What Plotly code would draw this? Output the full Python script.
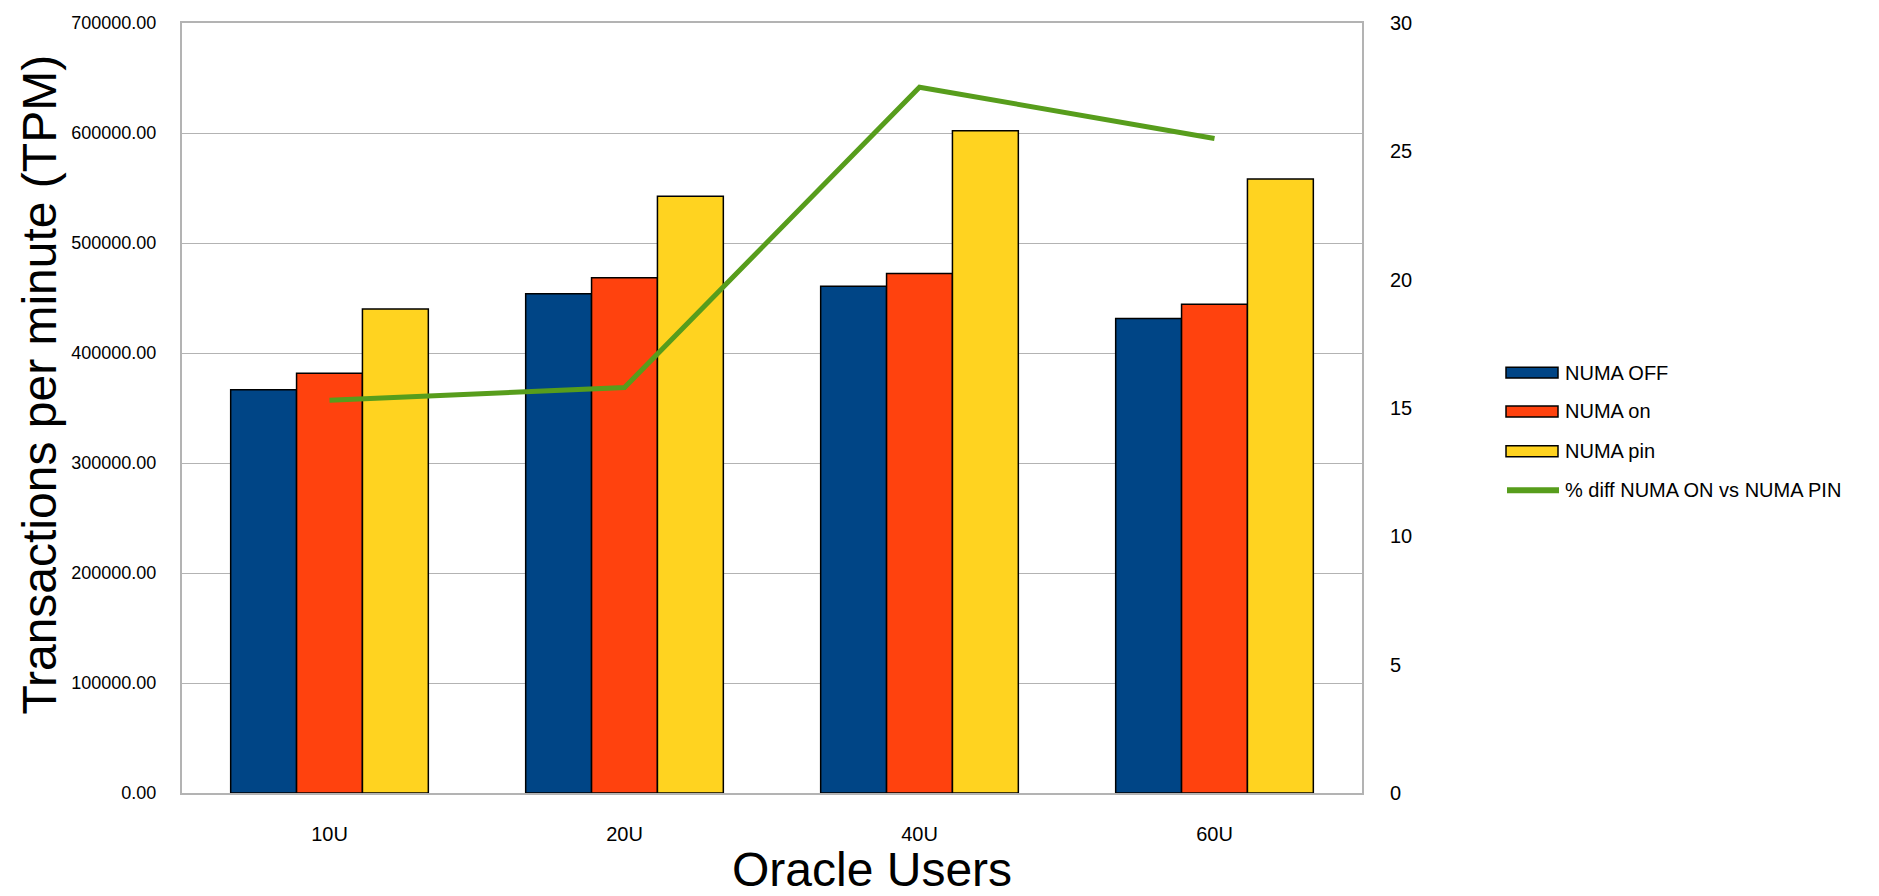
import plotly.graph_objects as go

# Benchmark results: TPM per configuration and the % gain of pinning over NUMA on
categories = ["10U", "20U", "40U", "60U"]
series_names = ["NUMA OFF", "NUMA on", "NUMA pin"]
numa_off = [366500, 453800, 460600, 431300]
numa_on = [381500, 468500, 472300, 444300]
numa_pin = [440000, 542500, 602100, 558100]
line_name = "% diff NUMA ON vs NUMA PIN"
pct_diff = [15.3, 15.8, 27.5, 25.5]

bar_colors = ["#004586", "#ff420e", "#ffd320"]
line_color = "#579d1c"
grid_color = "#b3b3b3"
FONT = "Liberation Sans, Arial, sans-serif"

W, H = 1879, 896
ML, MR, MT, MB = 182, 517, 20, 103
PW, PH = W - ML - MR, H - MT - MB


def px_x(px):
    return (px - ML) / PW


def px_y(py):
    return (H - MB - py) / PH


fig = go.Figure()
for name, vals, col in zip(series_names, [numa_off, numa_on, numa_pin], bar_colors):
    fig.add_trace(go.Bar(
        x=categories, y=vals, name=name, showlegend=False,
        marker=dict(color=col, line=dict(color="black", width=1.5)),
    ))

fig.add_trace(go.Scatter(
    x=categories, y=pct_diff, name=line_name, yaxis="y2", mode="lines",
    showlegend=False, line=dict(color=line_color, width=5),
))

# Legend drawn at the right of the plot with wide swatches
shapes = []
annotations = []
row_y = [371, 410, 450, 489]
for i, (name, col) in enumerate(zip(series_names, bar_colors)):
    cy = row_y[i]
    shapes.append(dict(
        type="rect", xref="paper", yref="paper",
        x0=px_x(1506), x1=px_x(1558), y0=px_y(cy + 5.5), y1=px_y(cy - 5.5),
        fillcolor=col, line=dict(color="black", width=1.5),
    ))
    annotations.append(dict(
        text=name, xref="paper", yref="paper", x=px_x(1563), y=px_y(cy),
        xanchor="left", yanchor="middle", showarrow=False,
        font=dict(family=FONT, size=20, color="black"),
    ))
cy = row_y[3]
shapes.append(dict(
    type="line", xref="paper", yref="paper",
    x0=px_x(1507), x1=px_x(1559), y0=px_y(cy), y1=px_y(cy),
    line=dict(color=line_color, width=6),
))
annotations.append(dict(
    text=line_name, xref="paper", yref="paper", x=px_x(1563), y=px_y(cy),
    xanchor="left", yanchor="middle", showarrow=False,
    font=dict(family=FONT, size=20, color="black"),
))

# Axis titles
annotations.append(dict(
    text="Transactions per minute (TPM)", xref="paper", yref="paper",
    x=px_x(40), y=px_y(383), xanchor="center", yanchor="middle",
    textangle=-90, showarrow=False,
    font=dict(family=FONT, size=48, color="black"),
))
annotations.append(dict(
    text="Oracle Users", xref="paper", yref="paper",
    x=px_x(872), y=px_y(870), xanchor="center", yanchor="middle",
    showarrow=False, font=dict(family=FONT, size=48, color="black"),
))

fig.update_layout(
    width=W, height=H,
    margin=dict(l=ML, r=MR, t=MT, b=MB, pad=0),
    paper_bgcolor="white", plot_bgcolor="white",
    barmode="group", bargap=0.33, bargroupgap=0,
    showlegend=False,
    font=dict(family=FONT, color="black"),
    shapes=shapes, annotations=annotations,
    xaxis=dict(
        showline=True, linecolor=grid_color, linewidth=2, mirror=True,
        showgrid=False, ticks="", ticklabelstandoff=22,
        tickfont=dict(family=FONT, size=20, color="black"),
    ),
    yaxis=dict(
        range=[0, 700000], dtick=100000, tickformat=".2f",
        showline=True, linecolor=grid_color, linewidth=2, mirror=True,
        showgrid=True, gridcolor=grid_color, gridwidth=1,
        zeroline=False, ticks="", ticklabelstandoff=20,
        tickfont=dict(family=FONT, size=18, color="black"),
    ),
    yaxis2=dict(
        range=[0, 30], dtick=5, overlaying="y", side="right", anchor="x",
        showgrid=False, zeroline=False, showline=False, ticks="",
        ticklabelstandoff=27,
        tickfont=dict(family=FONT, size=20, color="black"),
    ),
)

fig.write_html("out.html")
